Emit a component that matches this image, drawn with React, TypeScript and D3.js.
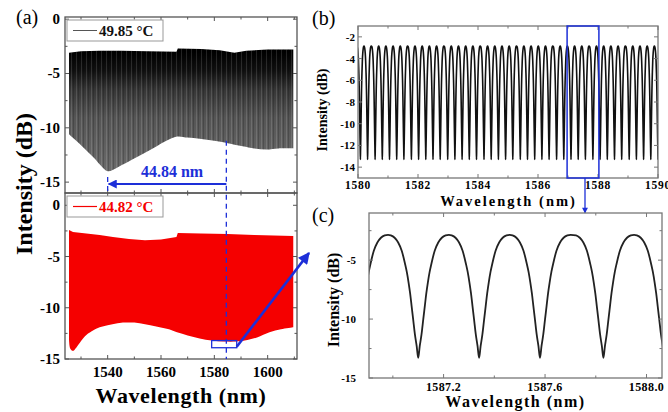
import React from 'react';
import * as d3 from 'd3';

// (a) upper trace, 49.85 °C : envelope of the comb
const hotTopWl = [1525.5, 1530, 1537, 1545, 1555, 1565.8, 1566.3, 1575, 1582, 1587.5, 1592, 1600, 1609.6];
const hotTopDb = [-3.1, -2.95, -2.9, -2.9, -2.95, -3.0, -2.7, -2.75, -2.85, -3.1, -2.9, -2.8, -2.8];
const hotLowWl = [1525.5, 1530, 1535, 1537.5, 1540, 1544, 1549.4, 1554, 1558.4, 1562, 1566, 1570, 1574.5, 1580, 1584.6, 1590.6, 1595, 1599.6, 1604, 1609.6];
const hotLowDb = [-10.6, -11.6, -12.8, -13.5, -14.0, -13.6, -12.9, -12.3, -11.7, -11.2, -10.8, -10.9, -11.0, -11.2, -11.4, -11.7, -11.9, -12.0, -11.9, -11.9];

// (a) lower trace, 44.82 °C
const coolTopWl = [1525.5, 1527, 1532, 1537, 1542, 1548, 1554, 1560, 1565.8, 1566.3, 1575, 1585, 1595, 1609.6];
const coolTopDb = [-2.4, -2.6, -2.75, -2.9, -3.1, -3.3, -3.4, -3.35, -3.1, -2.7, -2.75, -2.8, -2.9, -3.0];
const coolLowWl = [1525.5, 1526, 1527, 1529, 1531.4, 1534, 1537, 1540, 1543.7, 1548, 1552, 1556, 1559.5, 1563, 1566, 1570, 1574.5, 1579, 1583.9, 1588, 1591.4, 1596, 1600.7, 1605, 1609.6];
const coolLowDb = [-13.0, -14.0, -14.2, -13.6, -12.8, -12.3, -11.9, -11.7, -11.5, -11.45, -11.5, -11.7, -11.9, -12.1, -12.4, -12.7, -13.0, -13.2, -13.3, -13.3, -13.2, -12.9, -12.4, -12.1, -11.9];

// (b)/(c) dip centres (nm) and single dip profile (offset nm -> dB)
const dipCentres = [1579.84, 1580.08, 1580.32, 1580.57, 1580.81, 1581.05, 1581.29, 1581.53, 1581.78, 1582.02,
  1582.26, 1582.50, 1582.74, 1582.99, 1583.23, 1583.47, 1583.71, 1583.95, 1584.20, 1584.44, 1584.68, 1584.92,
  1585.16, 1585.41, 1585.65, 1585.89, 1586.13, 1586.37, 1586.62, 1586.86, 1587.10, 1587.34, 1587.58, 1587.83,
  1588.07, 1588.31, 1588.55, 1588.79, 1589.04, 1589.28, 1589.52, 1589.76, 1590.00];
const dipOffset = [0, 0.006, 0.013, 0.02, 0.026, 0.032, 0.038, 0.045, 0.052, 0.065, 0.079, 0.093, 0.108, 0.121];
const dipDb = [-13.3, -12.3, -11.3, -10.0, -8.9, -7.8, -6.9, -6.0, -5.3, -4.2, -3.5, -3.1, -2.9, -2.85];

const aXTicks = [1540, 1560, 1580, 1600];
const aYTicks = [0, -5, -10, -15];
const bXTicks = [1580, 1582, 1584, 1586, 1588, 1590];
const bYTicks = [-2, -4, -6, -8, -10, -12, -14];
const cXTicks = [1587.2, 1587.6, 1588.0];
const cYTicks = [-5, -10, -15];

const BLUE = '#1d2fd8';
const RED = '#f50000';
const FONT = '"Liberation Serif", "DejaVu Serif", serif';

function combPoints(): [number, number][] {
  const pts: [number, number][] = [];
  const n = dipOffset.length - 1;
  pts.push([dipCentres[0] - dipOffset[n], dipDb[n]]);
  dipCentres.forEach((c) => {
    for (let i = n - 1; i > 0; i--) pts.push([c - dipOffset[i], dipDb[i]]);
    pts.push([c, dipDb[0]]);
    for (let i = 1; i <= n; i++) pts.push([c + dipOffset[i], dipDb[i]]);
  });
  return pts;
}

function envelopePath(x, y, tw, td, lw, ld) {
  const line = d3.line();
  const lineLo = d3.line().curve(d3.curveCatmullRom);
  const up = tw.map((w, i) => [x(w), y(td[i])]);
  const lo = lw.map((w, i) => [x(w), y(ld[i])]).reverse();
  return line(up) + lineLo(lo).replace(/^M/, 'L') + 'Z';
}

function Frame({ x, y, xMinor, yMinor, xMajor, yMajor, stroke = '#555' }) {
  const [x0, x1] = x.range();
  const [y0, y1] = y.range();
  const top = Math.min(y0, y1), bot = Math.max(y0, y1);
  const t = [];
  xMajor.forEach((v, i) => {
    t.push(<line key={'xb' + i} x1={x(v)} x2={x(v)} y1={bot} y2={bot - 4} />);
    t.push(<line key={'xt' + i} x1={x(v)} x2={x(v)} y1={top} y2={top + 4} />);
  });
  xMinor.forEach((v, i) => {
    t.push(<line key={'xbm' + i} x1={x(v)} x2={x(v)} y1={bot} y2={bot - 2.5} />);
    t.push(<line key={'xtm' + i} x1={x(v)} x2={x(v)} y1={top} y2={top + 2.5} />);
  });
  yMajor.forEach((v, i) => {
    t.push(<line key={'yl' + i} x1={x0} x2={x0 + 4} y1={y(v)} y2={y(v)} />);
    t.push(<line key={'yr' + i} x1={x1} x2={x1 - 4} y1={y(v)} y2={y(v)} />);
  });
  yMinor.forEach((v, i) => {
    t.push(<line key={'ylm' + i} x1={x0} x2={x0 + 2.5} y1={y(v)} y2={y(v)} />);
    t.push(<line key={'yrm' + i} x1={x1} x2={x1 - 2.5} y1={y(v)} y2={y(v)} />);
  });
  return (
    <g stroke={stroke} strokeWidth={1}>
      {t}
      <rect x={x0} y={top} width={x1 - x0} height={bot - top} fill="none" strokeWidth={1.3} />
    </g>
  );
}

export default function App() {
  // panel (a)
  const xA = d3.scaleLinear().domain([1524, 1611]).range([65, 297]);
  const yA1 = d3.scaleLinear().domain([-16, 0.2]).range([193, 17]);
  const yA2 = d3.scaleLinear().domain([-15, 1.2]).range([359, 193]);
  // panel (b)
  const xB = d3.scaleLinear().domain([1580, 1590]).range([358, 658]);
  const yB = d3.scaleLinear().domain([-15, -1]).range([178, 26]);
  // panel (c)
  const xC = d3.scaleLinear().domain([1586.906, 1588.061]).range([369, 662]);
  const yC = d3.scaleLinear().domain([-15, -1]).range([378, 213]);

  const comb = combPoints();
  const lineB = d3.line().x((d) => xB(d[0])).y((d) => yB(d[1])).curve(d3.curveMonotoneX);
  const lineC = d3.line().x((d) => xC(d[0])).y((d) => yC(d[1])).curve(d3.curveMonotoneX);

  const hotPath = envelopePath(xA, yA1, hotTopWl, hotTopDb, hotLowWl, hotLowDb);
  const coolPath = envelopePath(xA, yA2, coolTopWl, coolTopDb, coolLowWl, coolLowDb);

  const aMinorX = d3.range(1530, 1611, 10).filter((v) => !aXTicks.includes(v));
  const aMinorY = [-2.5, -7.5, -12.5];
  const bold = { fontFamily: FONT, fontWeight: 700 };
  const xDash = xA(1584.5);

  return (
    <svg width={668} height={412} style={{ position: 'absolute', left: 0, top: 0, background: '#fff' }}>
      <defs>
        <linearGradient id="hotGrad" gradientUnits="userSpaceOnUse" x1={0} x2={0} y1={yA1(-3)} y2={yA1(-14)}>
          <stop offset="0" stopColor="#000" />
          <stop offset="0.16" stopColor="#111" />
          <stop offset="0.32" stopColor="#363636" />
          <stop offset="0.55" stopColor="#555" />
          <stop offset="1" stopColor="#6a6a6a" />
        </linearGradient>
        <pattern id="streak" patternUnits="userSpaceOnUse" width={5} height={10}>
          <rect x={1} y={0} width={1} height={10} fill="rgba(255,255,255,0.13)" />
          <rect x={3} y={0} width={1} height={10} fill="rgba(0,0,0,0.18)" />
        </pattern>
        <clipPath id="clipB"><rect x={358} y={26} width={300} height={152} /></clipPath>
        <clipPath id="clipC"><rect x={369} y={213} width={293} height={165} /></clipPath>
        <marker id="headA" viewBox="0 0 10 10" refX={9} refY={5} markerWidth={5} markerHeight={4.5} orient="auto" markerUnits="strokeWidth">
          <path d="M0,0 L10,5 L0,10 Z" fill={BLUE} />
        </marker>
      </defs>

      {/* ---------- panel (a) ---------- */}
      <text x={16} y={24} fontFamily={FONT} fontSize={20}>(a)</text>
      <path d={hotPath} fill="url(#hotGrad)" />
      <path d={hotPath} fill="url(#streak)" />
      <path d={coolPath} fill={RED} />

      <Frame x={xA} y={yA1} xMajor={aXTicks} xMinor={aMinorX} yMajor={aYTicks} yMinor={aMinorY} stroke="#555" />
      <Frame x={xA} y={yA2} xMajor={aXTicks} xMinor={aMinorX} yMajor={aYTicks} yMinor={aMinorY} stroke="#555" />

      {aYTicks.map((v) => (
        <text key={'a1' + v} x={60} y={yA1(v) + 5} textAnchor="end" fontSize={15} {...bold}>{v}</text>
      ))}
      {aYTicks.map((v) => (
        <text key={'a2' + v} x={60} y={yA2(v) + 5} textAnchor="end" fontSize={15} {...bold}>{v}</text>
      ))}
      {aXTicks.map((v) => (
        <text key={'ax' + v} x={xA(v)} y={377} textAnchor="middle" fontSize={15} {...bold}>{v}</text>
      ))}
      <text x={181} y={403} textAnchor="middle" fontSize={22} letterSpacing={0.6} {...bold}>Wavelength (nm)</text>
      <text transform="translate(32,184) rotate(-90)" textAnchor="middle" fontSize={24} {...bold}>Intensity (dB)</text>

      {/* legends */}
      <rect x={67} y={20} width={96} height={21} fill="#fff" stroke="#999" strokeWidth={1} />
      <line x1={73} x2={97} y1={30.5} y2={30.5} stroke="#555" strokeWidth={1} />
      <text x={99} y={36} fontSize={15} fill="#111" {...bold}>49.85 °C</text>
      <rect x={67} y={196} width={96} height={21} fill="#fff" stroke="#999" strokeWidth={1} />
      <line x1={73} x2={97} y1={206.5} y2={206.5} stroke={RED} strokeWidth={1.2} />
      <text x={99} y={212} fontSize={15} fill={RED} {...bold}>44.82 °C</text>

      {/* wavelength shift annotation */}
      <line x1={xDash} x2={xDash} y1={yA1(-11.2)} y2={359} stroke={BLUE} strokeWidth={1.3} strokeDasharray="5,4" />
      <line x1={xA(1540)} x2={xA(1540)} y1={177} y2={193} stroke={BLUE} strokeWidth={1.3} strokeDasharray="5,4" />
      <line x1={xDash} x2={xA(1540) + 1} y1={184} y2={184} stroke={BLUE} strokeWidth={2} markerEnd="url(#headA)" />
      <text x={172} y={177} textAnchor="middle" fontSize={16} fill={BLUE} {...bold}>44.84 nm</text>

      {/* zoom box and arrow to (c) */}
      <rect x={xA(1579)} y={yA2(-13.2)} width={xA(1588.4) - xA(1579)} height={yA2(-13.9) - yA2(-13.2)} fill="none" stroke={BLUE} strokeWidth={1.3} />
      <line x1={xA(1588.4)} y1={yA2(-13.8)} x2={309} y2={253} stroke={BLUE} strokeWidth={2.6} markerEnd="url(#headA)" />

      {/* ---------- panel (b) ---------- */}
      <text x={312} y={25} fontFamily={FONT} fontSize={20}>(b)</text>
      <path d={lineB(comb)} fill="none" stroke="#111" strokeWidth={1.6} clipPath="url(#clipB)" />
      <Frame x={xB} y={yB} xMajor={bXTicks} xMinor={[1581, 1583, 1585, 1587, 1589]} yMajor={bYTicks} yMinor={[]} stroke="#777" />
      {bYTicks.map((v) => (
        <text key={'by' + v} x={355} y={yB(v) + 4} textAnchor="end" fontSize={11} {...bold}>{v}</text>
      ))}
      {bXTicks.map((v) => (
        <text key={'bx' + v} x={xB(v)} y={189} textAnchor="middle" fontSize={11.5} letterSpacing={0.8} {...bold}>{v}</text>
      ))}
      <text x={508.5} y={206} textAnchor="middle" fontSize={14.5} letterSpacing={2} {...bold}>Wavelength (nm)</text>
      <text transform="translate(327,110) rotate(-90)" textAnchor="middle" fontSize={14} {...bold}>Intensity (dB)</text>
      <rect x={xB(1586.97)} y={26} width={xB(1588.03) - xB(1586.97)} height={152} fill="none" stroke={BLUE} strokeWidth={1.5} />
      <line x1={585} x2={585} y1={178} y2={213} stroke={BLUE} strokeWidth={1.3} markerEnd="url(#headA)" />

      {/* ---------- panel (c) ---------- */}
      <text x={312} y={222} fontFamily={FONT} fontSize={20}>(c)</text>
      <path d={lineC(comb)} fill="none" stroke="#222" strokeWidth={1.8} clipPath="url(#clipC)" />
      <Frame x={xC} y={yC} xMajor={cXTicks} xMinor={[1587.0, 1587.4, 1587.8]} yMajor={cYTicks} yMinor={[-2.5, -7.5, -12.5]} stroke="#777" />
      {cYTicks.map((v) => (
        <text key={'cy' + v} x={356} y={yC(v) + 4} textAnchor="end" fontSize={11} {...bold}>{v}</text>
      ))}
      {cXTicks.map((v) => (
        <text key={'cx' + v} x={xC(v)} y={391} textAnchor="middle" fontSize={12} letterSpacing={0.4} {...bold}>{v.toFixed(1)}</text>
      ))}
      <text x={515.5} y={407} textAnchor="middle" fontSize={16} letterSpacing={1.5} {...bold}>Wavelength (nm)</text>
      <text transform="translate(339,300) rotate(-90)" textAnchor="middle" fontSize={16} {...bold}>Intensity (dB)</text>
    </svg>
  );
}
